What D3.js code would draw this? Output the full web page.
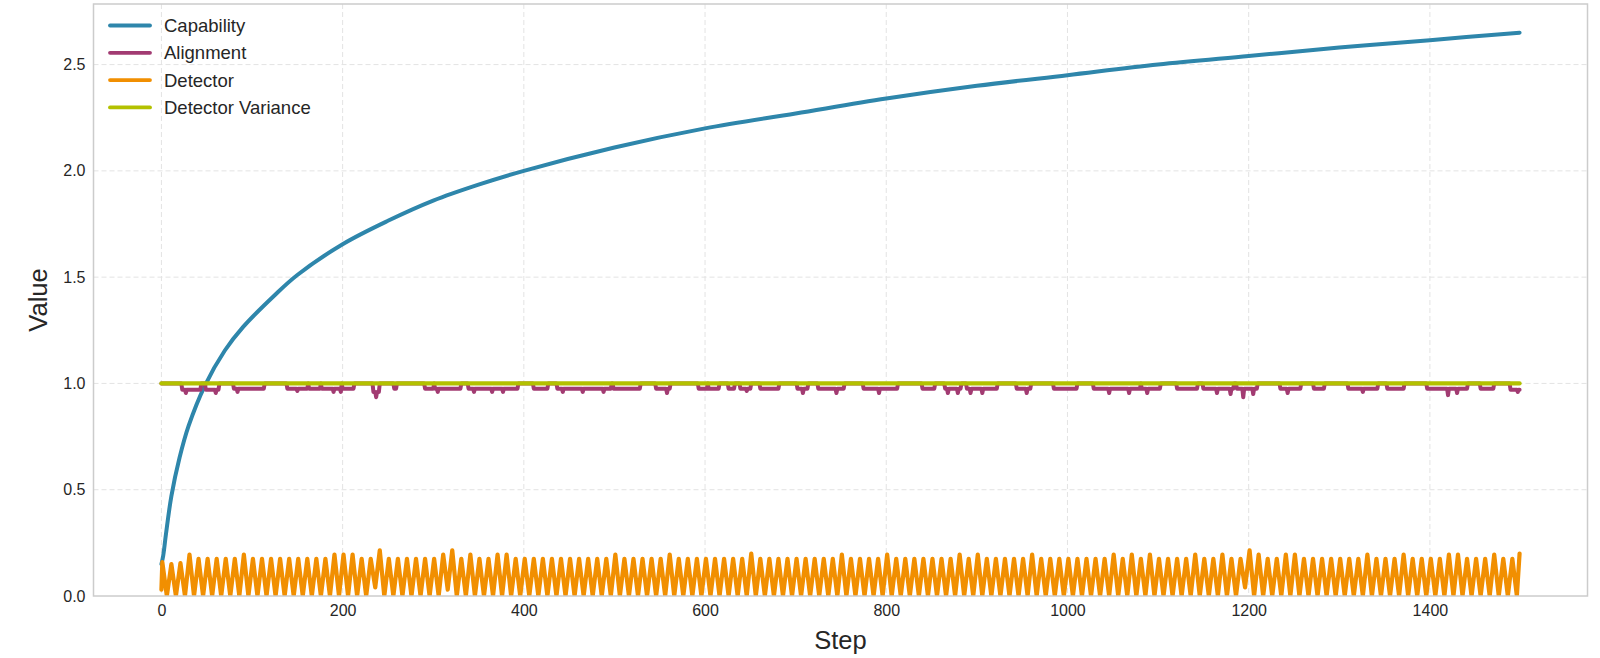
<!DOCTYPE html>
<html>
<head>
<meta charset="utf-8">
<script src="https://cdn.jsdelivr.net/npm/d3@7"></script>
<style>
  html, body { margin: 0; padding: 0; background: #ffffff; }
  svg { display: block; }
  text { font-family: "Liberation Sans", Arial, sans-serif; fill: #262626; }
</style>
</head>
<body>
<svg id="chart" width="1600" height="658"></svg>
<script>
// ---------------- DATA ----------------
const seriesNames = ["Capability", "Alignment", "Detector", "Detector Variance"];
const seriesColors = ["#2E86AB", "#A23B72", "#F18F01", "#B3C100"];

const xTicks = [0, 200, 400, 600, 800, 1000, 1200, 1400];
const yTicks = [0.0, 0.5, 1.0, 1.5, 2.0, 2.5];
const xLabel = "Step";
const yLabel = "Value";

// Capability: sampled readings
const capabilitySteps  = [0, 2, 5, 11, 20, 30, 48, 70, 90, 125, 150, 200, 250, 300, 350, 400, 500, 600, 700, 800, 900, 1000, 1100, 1200, 1300, 1400, 1499];
const capabilityValues = [0.15, 0.19, 0.29, 0.47, 0.65, 0.80, 0.99, 1.155, 1.265, 1.415, 1.51, 1.655, 1.765, 1.86, 1.935, 2.00, 2.11, 2.20, 2.27, 2.34, 2.40, 2.45, 2.50, 2.54, 2.58, 2.615, 2.65];

// Alignment: baseline value, dip stretches [start, end, value] and deeper single readings [step, value]
const alignmentBaseline = 1.0;
const alignmentLastStep = 1499;
const alignmentDips = [
  [23,43,0.97],[49,63,0.97],[80,113,0.975],[139,161,0.975],[163,175,0.975],[177,198,0.975],[200,212,0.975],
  [234,240,0.96],[257,259,0.975],[291,300,0.975],[302,330,0.975],[339,393,0.975],[411,426,0.975],[437,496,0.975],
  [499,528,0.975],[546,561,0.975],[593,602,0.975],[604,615,0.975],[626,632,0.975],[639,650,0.975],[661,681,0.975],
  [702,713,0.975],[725,753,0.975],[775,812,0.975],[840,853,0.975],[865,882,0.975],[889,922,0.975],[944,959,0.975],
  [985,1010,0.975],[1029,1080,0.975],[1082,1102,0.975],[1121,1143,0.975],[1150,1183,0.975],[1187,1209,0.975],
  [1235,1257,0.975],[1272,1283,0.975],[1310,1342,0.975],[1353,1371,0.975],[1397,1441,0.975],[1456,1470,0.975],
  [1489,1499,0.97]
];
const alignmentDeep = [
  [27,0.955],[60,0.955],[84,0.96],[150,0.965],[190,0.96],[198,0.96],[237,0.935],[305,0.96],[345,0.96],
  [365,0.96],[377,0.96],[443,0.96],[465,0.96],[488,0.96],[558,0.955],[646,0.965],[708,0.955],[745,0.955],
  [792,0.955],[868,0.955],[879,0.955],[893,0.955],[906,0.955],[955,0.955],[1046,0.955],[1068,0.955],[1088,0.955],
  [1165,0.955],[1180,0.95],[1194,0.935],[1205,0.95],[1243,0.955],[1326,0.96],[1420,0.945],[1430,0.955],[1497,0.96]
];

// Detector: per-cycle peaks and troughs (cycle k peaks near step 10k+1, trough near 10k+6)
const detectorStart = [0, 0.03];
const detectorEnd = [1499, 0.20];
const detectorPeaks = [
  0.16,0.15,0.155,0.195,0.175,0.175,0.175,0.175,0.175,0.195, // 0-9
  0.175,0.175,0.175,0.175,0.175,0.175,0.175,0.175,0.175,0.195, // 10-19
  0.195,0.195,0.175,0.175,0.215,0.175,0.175,0.175,0.175,0.175, // 20-29
  0.175,0.195,0.215,0.175,0.195,0.175,0.175,0.195,0.195,0.175, // 30-39
  0.175,0.175,0.175,0.175,0.175,0.175,0.175,0.175,0.175,0.175, // 40-49
  0.195,0.175,0.175,0.175,0.175,0.175,0.195,0.175,0.175,0.175, // 50-59
  0.175,0.175,0.175,0.175,0.175,0.2,0.175,0.175,0.175,0.175,   // 60-69
  0.175,0.175,0.175,0.175,0.175,0.195,0.175,0.175,0.175,0.175, // 70-79
  0.195,0.175,0.175,0.175,0.175,0.175,0.175,0.175,0.195,0.175, // 80-89
  0.195,0.175,0.175,0.175,0.175,0.175,0.195,0.175,0.175,0.175, // 90-99
  0.175,0.175,0.175,0.175,0.175,0.195,0.175,0.195,0.175,0.195, // 100-109
  0.175,0.175,0.175,0.175,0.195,0.175,0.175,0.195,0.175,0.175, // 110-119
  0.215,0.195,0.175,0.175,0.195,0.195,0.175,0.175,0.175,0.175, // 120-129
  0.175,0.175,0.175,0.195,0.175,0.175,0.175,0.195,0.175,0.175, // 130-139
  0.175,0.175,0.195,0.195,0.175,0.175,0.175,0.195,0.175,0.175  // 140-149
];
const detectorTroughs = [
  0,0,0,0,0,0,0,0,0,0, 0,0,0,0,0,0,0,0,0,0,
  0,0,0,0.04,0,0,0,0,0,0, 0,0.03,0,0,0,0,0,0,0,0,
  0,0,0,0,0,0,0,0,0,0, 0,0,0,0,0,0,0,0,0,0,
  0,0,0,0,0,0,0,0,0,0, 0,0,0,0,0,0,0,0,0,0,
  0,0,0,0,0,0,0,0,0,0, 0,0,0,0,0,0,0,0,0,0,
  0,0,0,0,0,0,0,0,0,0, 0,0,0,0,0,0,0,0,0,0.04,
  0,0,0,0,0,0,0,0,0,0, 0,0,0,0,0,0,0,0,0,0,
  0,0,0,0,0,0,0,0,0,0
];

// Detector Variance
const varianceSteps = [0, 1499];
const varianceValues = [1.0, 1.0];

// ---------------- BUILD SERIES ----------------
const capabilityData = capabilitySteps.map((s, i) => [s, capabilityValues[i]]);

const alignmentValues = d3.range(0, alignmentLastStep + 1).map(() => alignmentBaseline);
alignmentDips.forEach(([a, b, v]) => { for (let t = a; t <= b; t++) alignmentValues[t] = Math.min(alignmentValues[t], v); });
alignmentDeep.forEach(([t, v]) => { alignmentValues[t] = v; });
const alignmentData = alignmentValues.map((v, t) => [t, v]);

const detectorData = [detectorStart];
detectorPeaks.forEach((p, k) => {
  detectorData.push([10 * k + 1, p]);
  detectorData.push([10 * k + 6, detectorTroughs[k]]);
});
detectorData.push(detectorEnd);

const varianceData = varianceSteps.map((s, i) => [s, varianceValues[i]]);

// ---------------- LAYOUT ----------------
const svg = d3.select("#chart");
const plot = { left: 93.5, right: 1587.5, top: 4, bottom: 596 };

const x = d3.scaleLinear().domain([-74.95, 1573.95]).range([plot.left, plot.right]);
const y = d3.scaleLinear().domain([0, 2.785]).range([plot.bottom, plot.top]);

svg.append("defs").append("clipPath").attr("id", "clip")
  .append("rect")
  .attr("x", plot.left).attr("y", plot.top)
  .attr("width", plot.right - plot.left).attr("height", plot.bottom - plot.top);

// grid
const grid = svg.append("g").attr("class", "grid");
grid.selectAll("line.gx").data(xTicks).enter().append("line")
  .attr("x1", d => x(d)).attr("x2", d => x(d))
  .attr("y1", plot.top).attr("y2", plot.bottom)
  .attr("stroke", "#e3e3e3").attr("stroke-width", 1).attr("stroke-dasharray", "5,3");
grid.selectAll("line.gy").data(yTicks.filter(d => d > 0)).enter().append("line")
  .attr("x1", plot.left).attr("x2", plot.right)
  .attr("y1", d => y(d)).attr("y2", d => y(d))
  .attr("stroke", "#e3e3e3").attr("stroke-width", 1).attr("stroke-dasharray", "5,3");

// series
const lines = svg.append("g").attr("clip-path", "url(#clip)");

lines.append("path").datum(capabilityData)
  .attr("d", d3.line().x(d => x(d[0])).y(d => y(d[1])).curve(d3.curveCatmullRom.alpha(0.5)))
  .attr("fill", "none").attr("stroke", seriesColors[0]).attr("stroke-width", 4)
  .attr("stroke-linejoin", "round").attr("stroke-linecap", "round");

lines.append("path").datum(alignmentData)
  .attr("d", d3.line().x(d => x(d[0])).y(d => y(d[1])))
  .attr("fill", "none").attr("stroke", seriesColors[1]).attr("stroke-width", 4)
  .attr("stroke-linejoin", "round").attr("stroke-linecap", "round");

lines.append("path").datum(detectorData)
  .attr("d", d3.line().x(d => x(d[0])).y(d => y(d[1])))
  .attr("fill", "none").attr("stroke", seriesColors[2]).attr("stroke-width", 4.2)
  .attr("stroke-linejoin", "round").attr("stroke-linecap", "round");

lines.append("path").datum(varianceData)
  .attr("d", d3.line().x(d => x(d[0])).y(d => y(d[1])))
  .attr("fill", "none").attr("stroke", seriesColors[3]).attr("stroke-width", 4.2)
  .attr("stroke-linejoin", "round").attr("stroke-linecap", "round");

// frame
svg.append("rect")
  .attr("x", plot.left).attr("y", plot.top)
  .attr("width", plot.right - plot.left).attr("height", plot.bottom - plot.top)
  .attr("fill", "none").attr("stroke", "#cccccc").attr("stroke-width", 1.5);

// axes (labels only, no tick marks)
const xAxis = d3.axisBottom(x).tickValues(xTicks).tickSize(0).tickPadding(9).tickFormat(d3.format("d"));
const gx = svg.append("g").attr("transform", `translate(0,${plot.bottom})`).call(xAxis);
gx.select(".domain").remove();
gx.selectAll("text").attr("font-size", 16).attr("fill", "#262626").style("font-family", '"Liberation Sans", Arial, sans-serif');

const yAxis = d3.axisLeft(y).tickValues(yTicks).tickSize(0).tickPadding(8).tickFormat(d3.format(".1f"));
const gy = svg.append("g").attr("transform", `translate(${plot.left},0)`).call(yAxis);
gy.select(".domain").remove();
gy.selectAll("text").attr("font-size", 16).attr("fill", "#262626").style("font-family", '"Liberation Sans", Arial, sans-serif');

// axis labels
svg.append("text").attr("x", (plot.left + plot.right) / 2).attr("y", 649)
  .attr("text-anchor", "middle").attr("font-size", 25.5).text(xLabel);
svg.append("text").attr("transform", `translate(47,${(plot.top + plot.bottom) / 2}) rotate(-90)`)
  .attr("text-anchor", "middle").attr("font-size", 25.5).text(yLabel);

// legend
const legend = svg.append("g");
seriesNames.forEach((name, i) => {
  const cy = 25.5 + i * 27.3;
  legend.append("line").attr("x1", 110).attr("x2", 150).attr("y1", cy).attr("y2", cy)
    .attr("stroke", seriesColors[i]).attr("stroke-width", 3.8).attr("stroke-linecap", "round");
  legend.append("text").attr("x", 164).attr("y", cy).attr("dy", "0.35em")
    .attr("font-size", 18.5).text(name);
});
</script>
</body>
</html>
